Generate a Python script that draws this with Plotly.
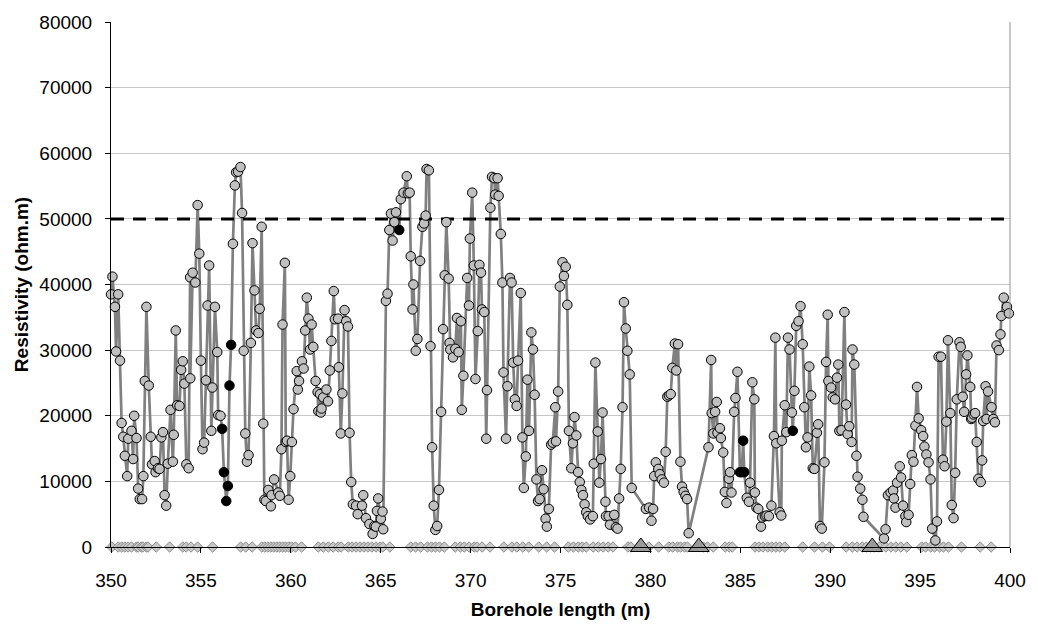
import plotly.graph_objects as go

# Resistivity readings (grey circles)
gray_x = [350.00, 350.08, 350.22, 350.28, 350.40, 350.50, 350.59, 350.68, 350.77, 350.90,
          350.96, 351.14, 351.23, 351.29, 351.42, 351.51, 351.60, 351.73, 351.80, 351.88,
          351.97, 352.10, 352.21, 352.28, 352.43, 352.48, 352.61, 352.70, 352.80, 352.89,
          352.98, 353.07, 353.16, 353.31, 353.44, 353.49, 353.60, 353.68, 353.81, 353.90,
          353.99, 354.08, 354.19, 354.32, 354.40, 354.41, 354.54, 354.69, 354.82, 354.91,
          355.00, 355.09, 355.18, 355.28, 355.37, 355.46, 355.58, 355.64, 355.78, 355.91,
          355.96, 356.09,
          356.78, 356.89, 356.96, 357.07, 357.20, 357.29, 357.38, 357.47, 357.56, 357.65,
          357.78, 357.87, 357.98, 358.07, 358.20, 358.27, 358.38, 358.47, 358.53, 358.61,
          358.75, 358.89, 358.93, 359.07, 359.30, 359.39, 359.48, 359.54, 359.67, 359.72,
          359.79, 359.88, 359.97, 360.06, 360.15, 360.33, 360.39, 360.46, 360.62, 360.71,
          360.80, 360.89, 360.98, 361.07, 361.16, 361.25, 361.38, 361.49, 361.53, 361.62,
          361.67, 361.71, 361.80, 361.98, 362.07, 362.17, 362.26, 362.39, 362.45, 362.63,
          362.67, 362.78, 362.87, 362.99, 363.08, 363.18, 363.27, 363.36, 363.45, 363.63,
          363.72, 363.96, 364.03, 364.18, 364.37, 364.55, 364.65, 364.73, 364.79, 364.86,
          365.01, 365.10, 365.14, 365.29, 365.38, 365.48, 365.57, 365.66, 365.76, 365.85,
          366.12, 366.27, 366.45, 366.51, 366.61, 366.67, 366.77, 366.82, 366.95, 367.04,
          367.19, 367.32, 367.41, 367.50, 367.55, 367.68, 367.77, 367.86, 367.95, 368.04,
          368.14, 368.24, 368.36, 368.47, 368.56, 368.65, 368.78, 368.83, 368.87, 369.02,
          369.15, 369.24, 369.33, 369.46, 369.51, 369.60, 369.81, 369.91, 369.96, 370.09,
          370.18, 370.27, 370.40, 370.49, 370.58, 370.63, 370.76, 370.87, 370.91, 371.10,
          371.19, 371.32, 371.37, 371.50, 371.56, 371.68, 371.77, 371.83, 371.97, 372.05,
          372.19, 372.28, 372.37, 372.46, 372.56, 372.64, 372.79, 372.88, 372.96, 373.07,
          373.16, 373.25, 373.38, 373.47, 373.56, 373.66, 373.75, 373.84, 373.97, 374.06,
          374.17, 374.24, 374.35, 374.48, 374.57, 374.71, 374.75, 374.87, 374.96, 375.11,
          375.19, 375.29, 375.38, 375.47, 375.60, 375.69, 375.78, 375.88, 375.98, 376.07,
          376.16, 376.25, 376.34, 376.43, 376.52, 376.65, 376.80, 376.85, 376.94, 377.07,
          377.16, 377.25, 377.34, 377.50, 377.53, 377.68, 377.75, 377.99, 378.08, 378.17,
          378.26, 378.35, 378.45, 378.53, 378.63, 378.72, 378.85, 378.96, 379.75, 379.93,
          380.06, 380.15, 380.21, 380.30, 380.44, 380.52, 380.63, 380.75, 380.85, 380.94,
          381.03, 381.13, 381.22, 381.36, 381.44, 381.54, 381.67, 381.76, 381.85, 381.95,
          382.04, 382.13, 383.23, 383.38, 383.41, 383.50, 383.60, 383.69, 383.73, 383.87,
          383.92, 384.05, 384.14, 384.23, 384.36, 384.43, 384.51, 384.66, 384.73, 384.84,
          385.36, 385.48, 385.54, 385.67, 385.78, 385.81, 385.90, 386.00, 386.15, 386.22,
          386.37, 386.46, 386.59, 386.73, 386.87, 386.95, 387.00, 387.19, 387.28, 387.31,
          387.47, 387.56, 387.65, 387.74, 387.87, 388.01, 388.11, 388.24, 388.35, 388.47,
          388.56, 388.65, 388.74, 388.84, 388.94, 389.03, 389.12, 389.26, 389.33, 389.43,
          389.53, 389.68, 389.77, 389.86, 389.90, 390.05, 390.14, 390.27, 390.38, 390.45,
          390.51, 390.63, 390.79, 390.88, 390.97, 391.06, 391.19, 391.24, 391.34, 391.46,
          391.52, 391.67, 391.79, 391.85, 392.99, 393.08, 393.21, 393.36, 393.50, 393.54,
          393.63, 393.72, 393.87, 393.94, 394.05, 394.18, 394.23, 394.36, 394.45, 394.54,
          394.63, 394.74, 394.83, 394.92, 395.06, 395.17, 395.24, 395.35, 395.47, 395.58,
          395.67, 395.85, 395.94, 396.03, 396.16, 396.27, 396.36, 396.46, 396.55, 396.68,
          396.76, 396.86, 396.95, 397.04, 397.19, 397.26, 397.37, 397.45, 397.56, 397.63,
          397.79, 397.84, 397.88, 397.97, 398.06, 398.15, 398.24, 398.37, 398.45, 398.51,
          398.64, 398.69, 398.78, 398.97, 399.07, 399.16, 399.25, 399.38, 399.47, 399.52,
          399.65, 399.83, 399.94]
gray_y = [38500, 41200, 36600, 29800, 38500, 28400, 18900, 16800, 13900, 10800,
          16500, 17700, 13400, 20000, 16600, 8900, 7300, 7300, 10800, 25300,
          36600, 24600, 16800, 12600, 13100, 11400, 12000, 11900, 16700, 17500,
          7900, 6300, 12700, 20900, 13000, 17100, 33000, 21600, 21500, 27000,
          28300, 24900, 12600, 12000, 41100, 25700, 41800, 40300, 52100, 44700,
          28400, 14900, 15900, 25400, 36800, 42900, 17700, 24300, 36600, 29700,
          20100, 20000,
          46200, 55100, 57100, 57200, 57900, 50900, 29900, 17300, 13000, 14000,
          31100, 46300, 39100, 33000, 32600, 36300, 48800, 18800, 7200, 7000,
          8700, 6200, 7900, 10300, 8300, 7800, 14900, 33900, 43300, 16000,
          16200, 7200, 10800, 16000, 21000, 26800, 24000, 25300, 28300, 27200,
          33000, 38000, 34800, 30100, 33900, 30500, 25300, 23600, 20700, 23300,
          20500, 21100, 22800, 24000, 22200, 26900, 31400, 39000, 34700, 34800,
          27400, 17300, 23400, 36100, 34400, 33600, 17400, 9900, 6500, 6300,
          5000, 6300, 7900, 4400, 3500, 2000, 3200, 3100, 5500, 7400,
          4300, 5400, 2700, 37500, 38600, 48300, 50800, 46700, 49500, 51000,
          53000, 54000, 56500, 53900, 54000, 44300, 36200, 40000, 29900, 31700,
          43600, 48800, 49300, 50500, 57600, 57400, 30600, 15200, 6300, 2600,
          3200, 8700, 20600, 33200, 41400, 49500, 40900, 31100, 30100, 28900,
          30200, 34900, 29700, 34400, 20900, 26100, 41000, 36800, 47000, 54000,
          42900, 25600, 32900, 43000, 41800, 36200, 35800, 16500, 23900, 51700,
          56400, 56200, 53700, 56200, 53500, 47700, 40300, 26600, 16500, 24500,
          41000, 40300, 28100, 22500, 21500, 28400, 38700, 16700, 9000, 13800,
          25500, 17700, 32700, 30100, 23200, 10300, 7000, 7300, 11700, 8800,
          4300, 3100, 5800, 15600, 15900, 21300, 16100, 23700, 39700, 43400,
          41300, 42700, 36900, 17700, 12000, 15800, 19800, 17000, 11400, 9900,
          8700, 7900, 6500, 5300, 4700, 4200, 4700, 12700, 28100, 17600,
          9800, 13400, 20500, 6900, 4700, 4700, 3400, 4900, 3000, 2800,
          7400, 11900, 21300, 37300, 33300, 29900, 26300, 9000, 5800, 6000,
          4000, 5800, 10800, 12900, 11900, 11100, 10300, 9800, 14500, 22900,
          23100, 23300, 27300, 31000, 26900, 30900, 13000, 9200, 8400, 7800,
          7300, 2100, 15200, 28500, 20400, 17300, 20600, 22100, 17400, 18100,
          16600, 14400, 8400, 6700, 10400, 11400, 8300, 20600, 22700, 26700,
          7500, 6900, 9800, 25100, 22500, 8300, 6000, 5800, 3100, 4500,
          4700, 4800, 4700, 6300, 16900, 31900, 15800, 5300, 4800, 16200,
          21600, 17500, 31900, 30100, 20500, 23800, 33700, 34400, 36700, 30900,
          21300, 15200, 16700, 27500, 23100, 12000, 11900, 17400, 18700, 3200,
          2800, 12900, 28200, 35400, 25300, 24300, 22800, 22500, 25800, 27800,
          17700, 17800, 35800, 21700, 17200, 18400, 16000, 30100, 27800, 13900,
          10700, 8900, 7200, 4600, 1300, 2700, 7900, 8300, 8600, 7400,
          6000, 9800, 12300, 10600, 6300, 4700, 3800, 4900, 9600, 14000,
          13000, 18500, 24400, 19600, 17800, 16900, 15300, 14100, 12900, 10300,
          2800, 1000, 3900, 29000, 29000, 13300, 12300, 19100, 31500, 20400,
          6400, 4400, 11300, 22500, 31200, 30500, 22900, 20600, 26300, 29200,
          24400, 19500, 19700, 20200, 20400, 16000, 10400, 9900, 13200, 19200,
          24500, 19500, 23700, 21300, 19500, 19000, 30700, 30000, 32400, 35200,
          38000, 36600, 35600]

# Highlighted readings (black circles)
black_x = [356.18, 356.28, 356.41, 356.50, 356.59, 356.68, 366.03,
           384.98, 385.08, 385.16, 385.22, 387.92]
black_y = [18000, 11400, 7000, 9300, 24600, 30800, 48300,
           11400, 11400, 16200, 11400, 17700]

# Markers on the zero line
diamond_x = [350.04, 350.40, 350.59, 350.77, 350.95, 351.14, 351.42, 351.51, 351.69, 351.78,
             351.97, 352.06, 352.52, 353.26, 353.99, 354.18, 354.45, 354.82, 355.65, 357.21,
             357.49, 357.85, 358.39, 358.55, 358.72, 358.89, 359.05, 359.22, 359.38, 359.55,
             359.71, 359.88, 360.04, 360.26, 360.60, 361.53, 361.81, 362.09, 362.36, 362.64,
             362.80, 363.19, 363.41, 363.63, 363.85, 364.07, 364.29, 364.51, 364.74, 364.96,
             365.12, 365.51, 366.67, 366.94, 367.22, 367.60, 367.83, 368.05, 368.27, 368.54,
             369.15, 369.43, 369.65, 369.92, 370.20, 370.36, 370.64, 371.08, 371.85, 372.30,
             372.57, 372.90, 373.23, 373.79, 374.23, 374.67, 375.44, 375.72, 375.99, 376.21,
             376.43, 376.82, 377.10, 377.37, 377.65, 377.92, 378.75, 378.92, 379.91, 380.46,
             381.02, 381.24, 381.51, 381.68, 381.90, 382.06, 382.95, 383.17, 383.50, 384.16,
             384.38, 384.55, 385.82, 386.04, 386.26, 386.53, 386.75, 386.98, 387.20, 387.47,
             388.47, 389.13, 389.57, 389.96, 390.89, 391.23, 391.50, 391.78, 392.00, 392.22,
             392.44, 392.72, 393.10, 393.38, 393.65, 393.93, 394.26, 395.09, 395.31, 395.59,
             395.81, 396.08, 396.30, 396.58, 397.30, 398.34, 398.95]
triangle_x = [379.47, 382.69, 392.34]
threshold = 50000
x_range = [350, 400]
y_range = [0, 80000]

line_pts = sorted(zip(gray_x + black_x, gray_y + black_y))
line_x = [p[0] for p in line_pts]
line_y = [p[1] for p in line_pts]

fig = go.Figure()
fig.add_trace(go.Scatter(x=line_x, y=line_y, mode="lines",
                         line=dict(color="#808080", width=2.7), hoverinfo="skip"))
fig.add_trace(go.Scatter(x=x_range, y=[threshold, threshold], mode="lines",
                         line=dict(color="black", width=3, dash="13px,9px")))
fig.add_trace(go.Scatter(x=diamond_x, y=[0] * len(diamond_x), mode="markers",
                         marker=dict(symbol="diamond", size=8, color="#c8c8c8",
                                     line=dict(color="#8c8c8c", width=1)),
                         cliponaxis=False))
fig.add_trace(go.Scatter(x=gray_x, y=gray_y, mode="markers",
                         marker=dict(symbol="circle", size=9.5, color="#c0c0c0",
                                     line=dict(color="black", width=1)),
                         cliponaxis=False))
fig.add_trace(go.Scatter(x=black_x, y=black_y, mode="markers",
                         marker=dict(symbol="circle", size=9.5, color="black",
                                     line=dict(color="black", width=1)),
                         cliponaxis=False))
fig.add_trace(go.Scatter(x=triangle_x, y=[0] * len(triangle_x), mode="markers",
                         marker=dict(symbol="triangle-up", size=18, color="#9a9a9a",
                                     line=dict(color="black", width=1)),
                         cliponaxis=False))

font_family = "Arial, Liberation Sans, sans-serif"
fig.update_layout(
    width=1038, height=630,
    margin=dict(l=111, r=21, t=20, b=83),
    paper_bgcolor="white", plot_bgcolor="white",
    showlegend=False,
    font=dict(family=font_family, size=19, color="black"),
    xaxis=dict(range=x_range, dtick=5, tick0=350, showgrid=False, zeroline=False,
               showline=True, linecolor="black", linewidth=1,
               ticks="outside", ticklen=5, tickcolor="black",
               tickfont=dict(size=19), ticklabelstandoff=11,
               title=dict(text="<b>Borehole length (m)</b>", font=dict(size=19), standoff=12)),
    yaxis=dict(range=y_range, dtick=10000, tickformat="d", showgrid=True,
               gridcolor="#c8c8c8", gridwidth=1, zeroline=False,
               showline=True, linecolor="black", linewidth=1,
               ticks="outside", ticklen=5, tickcolor="black",
               tickfont=dict(size=19), ticklabelstandoff=9,
               title=dict(text="<b>Resistivity (ohm.m)</b>", font=dict(size=19), standoff=5)),
    shapes=[dict(type="line", xref="paper", yref="paper", x0=1, x1=1, y0=0, y1=1,
                 line=dict(color="#909090", width=1))],
)

fig.write_html("out.html")
